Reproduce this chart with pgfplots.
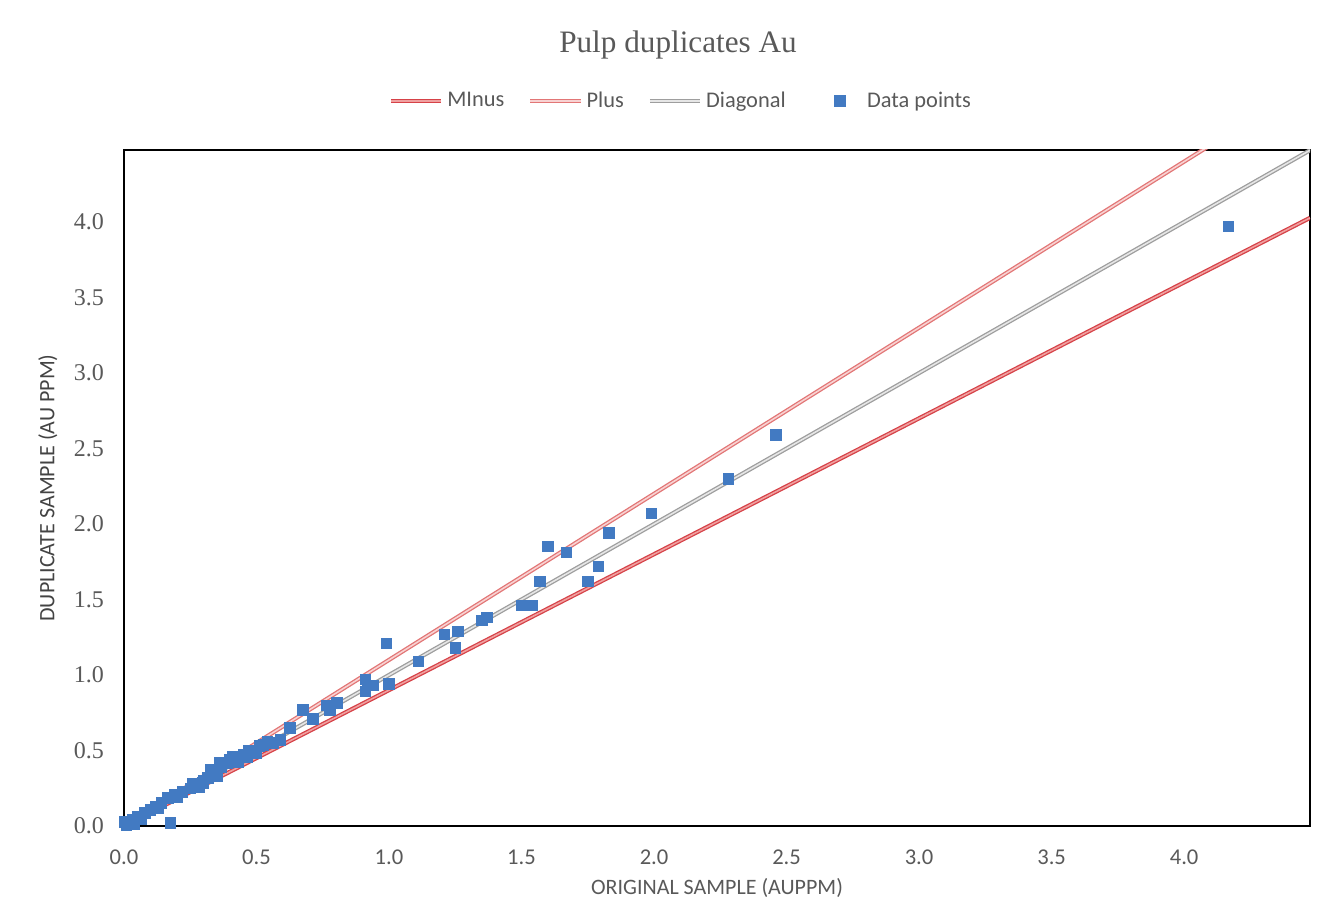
\documentclass[border=0pt]{standalone}
\usepackage{pgfplots}
\pgfplotsset{compat=1.18}
\usepackage{fontspec}
\setmainfont{Carlito}
\newfontfamily\seriffont{Liberation Serif}
\definecolor{ptblue}{RGB}{66,122,194}
\definecolor{minusc}{RGB}{214,66,72}
\definecolor{minusin}{RGB}{240,160,160}
\definecolor{plusc}{RGB}{226,118,118}
\definecolor{plusin}{RGB}{248,210,210}
\definecolor{diagc}{RGB}{158,158,158}
\definecolor{diagin}{RGB}{230,230,230}
\definecolor{txtgray}{RGB}{89,89,89}
\pgfplotsset{
  longleg/.style={legend image code/.code={\draw[##1] (0cm,0cm) -- (0.88cm,0cm);}},
  markleg/.style={legend image code/.code={\draw[##1] plot coordinates {(0.53cm,0cm)}; \path[draw=none,fill=none] (0cm,0cm) (0.94cm,0cm);}},
}
\pgfplotstableread{
x y
0.004 0.026
0.010 0.005
0.020 0.030
0.034 0.040
0.040 0.015
0.053 0.060
0.065 0.045
0.079 0.086
0.100 0.106
0.120 0.126
0.130 0.120
0.140 0.152
0.166 0.185
0.174 0.020
0.190 0.205
0.200 0.190
0.220 0.225
0.250 0.250
0.260 0.280
0.270 0.270
0.285 0.260
0.298 0.285
0.300 0.300
0.317 0.318
0.325 0.371
0.343 0.351
0.350 0.330
0.362 0.417
0.366 0.390
0.390 0.417
0.400 0.440
0.411 0.457
0.430 0.420
0.450 0.470
0.464 0.457
0.470 0.500
0.500 0.480
0.510 0.530
0.525 0.536
0.540 0.556
0.562 0.550
0.589 0.570
0.626 0.650
0.675 0.770
0.713 0.710
0.766 0.800
0.777 0.770
0.804 0.815
0.910 0.970
0.910 0.890
0.920 0.930
0.940 0.930
0.990 1.210
1.000 0.940
1.110 1.090
1.210 1.270
1.250 1.180
1.260 1.290
1.350 1.360
1.370 1.380
1.500 1.460
1.540 1.460
1.570 1.620
1.600 1.850
1.670 1.810
1.750 1.620
1.790 1.720
1.830 1.940
1.990 2.070
2.280 2.300
2.460 2.590
4.166 3.970
}\pts
\begin{document}
\begin{tikzpicture}
\begin{axis}[
  at={(0,0)}, anchor=south west,
  scale only axis, width=593pt, height=338pt,
  xmin=0, xmax=4.475, ymin=0, ymax=4.477,
  xtick={0,0.5,...,4.0}, ytick={0,0.5,...,4.0},
  major tick length=0pt,
  axis line style={black, line width=1pt},
  xticklabel style={font=\fontsize{11.3}{13}\selectfont, text=txtgray, yshift=-8.5pt},
  yticklabel style={font=\seriffont\fontsize{12}{14}\selectfont, text=txtgray, xshift=-6.5pt},
  /pgf/number format/assume math mode=true,
  xticklabel={\pgfmathprintnumber[fixed,fixed zerofill,precision=1]{\tick}},
  yticklabel={\pgfmathprintnumber[fixed,fixed zerofill,precision=1]{\tick}},
  xlabel={ORIGINAL SAMPLE (AUPPM)},
  ylabel={DUPLICATE SAMPLE (AU PPM)},
  xlabel style={font=\fontsize{11}{13}\selectfont, text=txtgray, at={(axis description cs:0.5,-0.092)}, anchor=center},
  ylabel style={font=\fontsize{11}{13}\selectfont, text=txtgray!75!black, at={(axis description cs:-0.0641,0.5)}, anchor=center},
  legend columns=4,
  legend style={at={(0.4705,1.0725)}, anchor=center, draw=none, fill=none,
    font=\fontsize{11.2}{13}\selectfont, text=txtgray,
    /tikz/every even column/.append style={column sep=10pt}},
]
\addplot[minusc, line width=0.65pt, double=minusin, double distance=0.8pt, longleg]
  coordinates {(0,0) (4.475,4.0275)};
\addlegendentry{MInus}
\addplot[plusc, line width=0.65pt, double=plusin, double distance=0.8pt, longleg]
  coordinates {(0,0) (4.5,4.95)};
\addlegendentry{Plus}
\addplot[diagc, line width=0.65pt, double=diagin, double distance=0.8pt, longleg]
  coordinates {(0,0) (4.5,4.5)};
\addlegendentry{Diagonal}
\addplot[only marks, mark=square*, mark size=2.6pt, mark options={fill=ptblue, draw=ptblue}, markleg]
  table[x=x,y=y] {\pts};
\addlegendentry{Data points}
\end{axis}
\node[font=\seriffont\fontsize{15.6}{18}\selectfont, text=txtgray] at (277pt,390.5pt) {Pulp duplicates Au};
\pgfresetboundingbox
\path (-62pt,-49pt) rectangle (606.5pt,413pt);
\end{tikzpicture}
\end{document}
